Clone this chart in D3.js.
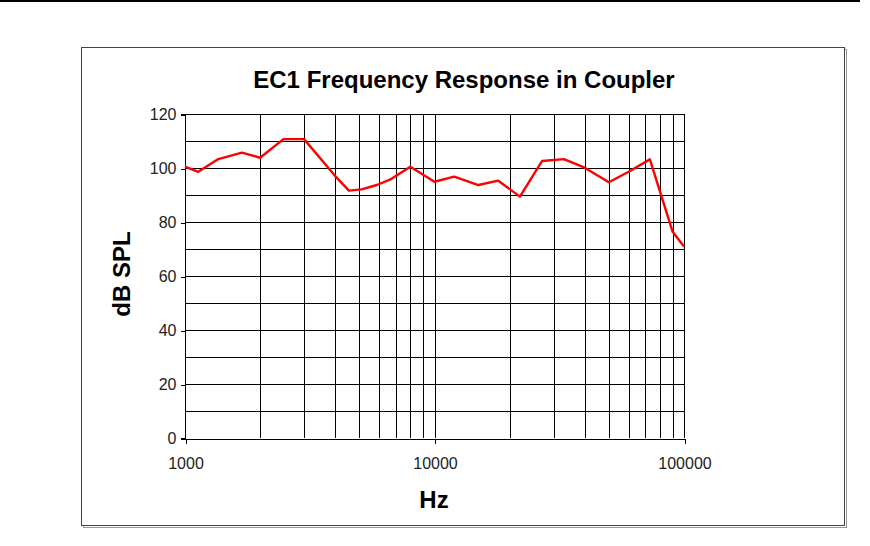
<!DOCTYPE html>
<html><head><meta charset="utf-8">
<script src="https://cdn.jsdelivr.net/npm/d3@7"></script>
<style>body{margin:0;background:#fff}svg{display:block}text{font-family:"Liberation Sans",Arial,sans-serif}</style>
</head><body><svg id="c" width="870" height="546"></svg>
<script>
const title = "EC1 Frequency Response in Coupler";
const xLabel = "Hz";
const yLabel = "dB SPL";
const freqs = [1000,1130,1360,1690,2000,2480,3000,4000,4540,5100,5870,6700,8000,10000,12000,15000,18000,22000,27000,33000,40000,50000,60000,73000,90000,100000];
const levels = [100.5,98.6,103.3,105.7,103.8,110.7,110.7,97,91.6,92.1,93.7,95.9,100.5,94.9,96.8,93.7,95.3,89.4,102.6,103.3,100.1,94.7,98.6,103.2,76.4,70.9];
const xTicks = [1000,10000,100000];
const yTicks = [0,20,40,60,80,100,120];
const xGrid = [2000,3000,4000,5000,6000,7000,8000,9000,10000,20000,30000,40000,50000,60000,70000,80000,90000,100000];
const yGrid = [10,20,30,40,50,60,70,80,90,100,110,120];

const svg = d3.select("#c");
const x = d3.scaleLog().domain([1000,100000]).range([185,684]);
const y = d3.scaleLinear().domain([0,120]).range([438,114]);

// top rule
svg.append("line").attr("x1",0).attr("x2",860).attr("y1",1).attr("y2",1).attr("stroke","#000").attr("stroke-width",2);
// outer box with shadow
svg.append("rect").attr("x",83.5).attr("y",49.5).attr("width",763).attr("height",478).attr("fill","none").attr("stroke","#999");
svg.append("rect").attr("x",81.5).attr("y",47.5).attr("width",763).attr("height",478).attr("fill","#fff").attr("stroke","#444");

// title and labels
svg.append("text").attr("x",464).attr("y",88).attr("text-anchor","middle").attr("font-size",24).attr("font-weight","bold").text(title);
svg.append("text").attr("transform","translate(130,274) rotate(-90)").attr("text-anchor","middle").attr("font-size",24).attr("font-weight","bold").text(yLabel);
svg.append("text").attr("x",434).attr("y",508).attr("text-anchor","middle").attr("font-size",24).attr("font-weight","bold").text(xLabel);

// grid
const g = svg.append("g").attr("shape-rendering","crispEdges");
g.selectAll(".vg").data(xGrid).join("line").attr("x1",d=>Math.round(x(d))+0.5).attr("x2",d=>Math.round(x(d))+0.5)
  .attr("y1",y(120)).attr("y2",y(0)).attr("stroke","#000");
g.selectAll(".hg").data(yGrid).join("line").attr("x1",x(1000)).attr("x2",x(100000))
  .attr("y1",d=>Math.round(y(d))+0.5).attr("y2",d=>Math.round(y(d))+0.5).attr("stroke","#000");

// axes
const yAxis = d3.axisLeft(y).tickValues(yTicks).tickSize(5).tickPadding(4).tickFormat(d3.format("d"));
const xAxis = d3.axisBottom(x).tickValues(xTicks).tickSize(5).tickPadding(14).tickFormat(d3.format("d"));
const ya = svg.append("g").attr("transform","translate(185.5,0.5)").call(yAxis);
const xa = svg.append("g").attr("transform","translate(0.5,438.5)").call(xAxis);
[ya,xa].forEach(a=>{
  a.select(".domain").attr("stroke","#000").attr("shape-rendering","crispEdges");
  a.selectAll(".tick line").attr("stroke","#000").attr("shape-rendering","crispEdges");
  a.selectAll("text").attr("font-size",16).attr("fill","#222").attr("font-family","'Liberation Sans',Arial,sans-serif");
});
ya.select(".domain").attr("d","M-5,"+y(120)+"H0V"+y(0)+"H-5");

// data line
const line = d3.line().x((d,i)=>x(freqs[i])).y(d=>y(d));
svg.append("path").datum(levels).attr("d",line).attr("fill","none").attr("stroke","#ff0000").attr("stroke-width",2.4).attr("stroke-linejoin","round");
</script></body></html>
